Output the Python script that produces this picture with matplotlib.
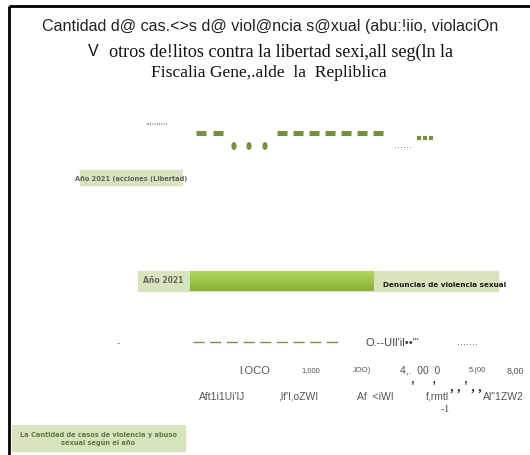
import numpy as np
import matplotlib.pyplot as plt
from matplotlib.patches import Rectangle, Ellipse

# --- chart content (text as it appears in the scanned figure) ---
title_lines = [
    "Cantidad d@ cas.<>s d@ viol@ncia s@xual (abu:!iio, violaciOn",
    "otros de!litos contra la libertad sexi,all seg(ln la",
    "Fiscalia Gene,.alde  la  Repliblica",
]
series_label = "Año 2021 (acciones (Libertad)"
bar_year = "Año 2021"
bar_name = "Denuncias de violencia sexual"
bar_value = 3380
axis_max = 6000
value_labels = ["l.OCO", "1,000", "JOO)", "4,.  00  0", "5.(00", "8,00"]
year_labels = ["Aft1i1Ui'lJ", ",lf'l,oZWI", "Af  <iWI", "f,rmtl", "Al\"1ZW2"]
legend_text = "La Cantidad de casos de violencia y abuso\nsexual según el año"

W, H = 530, 456
fig = plt.figure(figsize=(W / 100, H / 100), dpi=100)
ax = fig.add_axes([0, 0, 1, 1])
ax.set_xlim(0, W)
ax.set_ylim(H, 0)
ax.axis("off")

# frame (top and left edges only)
ax.plot([9, W], [7, 7], color="black", lw=2, solid_capstyle="butt")
ax.plot([9, 9], [7, H], color="black", lw=2, solid_capstyle="butt")

# title
ax.text(270, 27, title_lines[0], ha="center", va="center", fontsize=11.6,
        family="Liberation Sans", color="#222222")
ax.text(93, 52, "V", ha="center", va="center", fontsize=11.5,
        family="Liberation Sans", color="#111111")
ax.text(281, 52, title_lines[1], ha="center", va="center", fontsize=13.1,
        family="Liberation Serif", color="#111111")
ax.text(269, 73, title_lines[2], ha="center", va="center", fontsize=12.6,
        family="Liberation Serif", color="#111111")

# fragments of the line series
olive = "#76923c"
ax.text(157, 127, "''''''''''", ha="center", va="center", fontsize=6,
        color="#888888")
for x0 in [196, 213] + list(np.arange(277, 380, 16)):
    ax.plot([x0, x0 + 10], [134, 134], color=olive, lw=3.6,
            solid_capstyle="butt")
for xc in [234, 249, 265]:
    ax.add_patch(Ellipse((xc, 147), 3.8, 6.5, color=olive))
ax.text(403, 145, "......", ha="center", va="center", fontsize=7,
        color="#777777")
for x0 in [417, 423, 429]:
    ax.plot([x0, x0 + 3.6], [139, 139], color=olive, lw=3,
            solid_capstyle="butt")

# series label box
ax.add_patch(Rectangle((80, 171), 102, 15, color="#d7e4bd"))
ax.text(131, 179, series_label, ha="center", va="center", fontsize=5.3,
        color="#4a4a4a", alpha=0.85, weight="bold", stretch="condensed")

# legend strip with the bar
ax.add_patch(Rectangle((138, 272), 360, 20, color="#d7e4bd"))
ax.text(163, 281, bar_year, ha="center", va="center", fontsize=5.5,
        color="#666666", weight="bold")
ax.text(445, 285, bar_name, ha="center", va="center", fontsize=5.2,
        color="#1a1a1a", weight="bold")

bax = fig.add_axes([190 / W, 1 - 292 / H, (515 - 190) / W, 20 / H])
bax.set_xlim(0, axis_max)
bax.set_ylim(-0.5, 0.5)
bax.axis("off")
bars = bax.barh([0], [bar_value], height=1.0, color="#9bc548",
                edgecolor="#7f9f3c", lw=0.8)
grad = np.linspace(0, 1, 50).reshape(-1, 1)
cmap = plt.matplotlib.colors.LinearSegmentedColormap.from_list(
    "g", ["#86ad3a", "#9cc64a", "#b2d65c"])
img = bax.imshow(grad, extent=[0, bar_value, 0.5, -0.5], aspect="auto",
                 cmap=cmap, zorder=2)
img.set_clip_path(bars[0])

# axis fragments
ax.text(118, 343, "-", ha="center", va="center", fontsize=7, color="#888888")
ax.plot([193, 343], [343, 343], color=olive, lw=1, ls=(0, (8, 4)))
ax.text(392, 343, "O.--UIl'il••\"'", ha="center", va="center", fontsize=8,
        family="Liberation Sans", color="#444444")
ax.text(468, 342, ".......", ha="center", va="center", fontsize=7,
        color="#666666")

for lab, x, fs in zip(value_labels, [255, 311, 362, 420, 477, 515],
                      [8, 5.5, 5.5, 7.5, 5.5, 6.5]):
    ax.text(x, 371, lab, ha="center", va="center", fontsize=fs,
            family="Liberation Sans", color="#555555")
ax.text(446, 387, "'     '    , , ' , ,", ha="center", va="center",
        fontsize=10, family="Liberation Serif", color="#333333",
        weight="bold")
for lab, x in zip(year_labels, [222, 298, 375, 437, 503]):
    ax.text(x, 397, lab, ha="center", va="center", fontsize=7.5,
            family="Liberation Sans", color="#555555")
ax.text(445, 410, "-1", ha="center", va="center", fontsize=8,
        family="Liberation Serif", color="#555555")

# legend box
ax.add_patch(Rectangle((12, 426), 173, 26, color="#d7e4bd"))
ax.text(98, 439, legend_text, ha="center", va="center", fontsize=5.3,
        color="#4f6332", alpha=0.85, linespacing=1.2, weight="bold",
        stretch="condensed")

fig.savefig("out.png", dpi=100)
